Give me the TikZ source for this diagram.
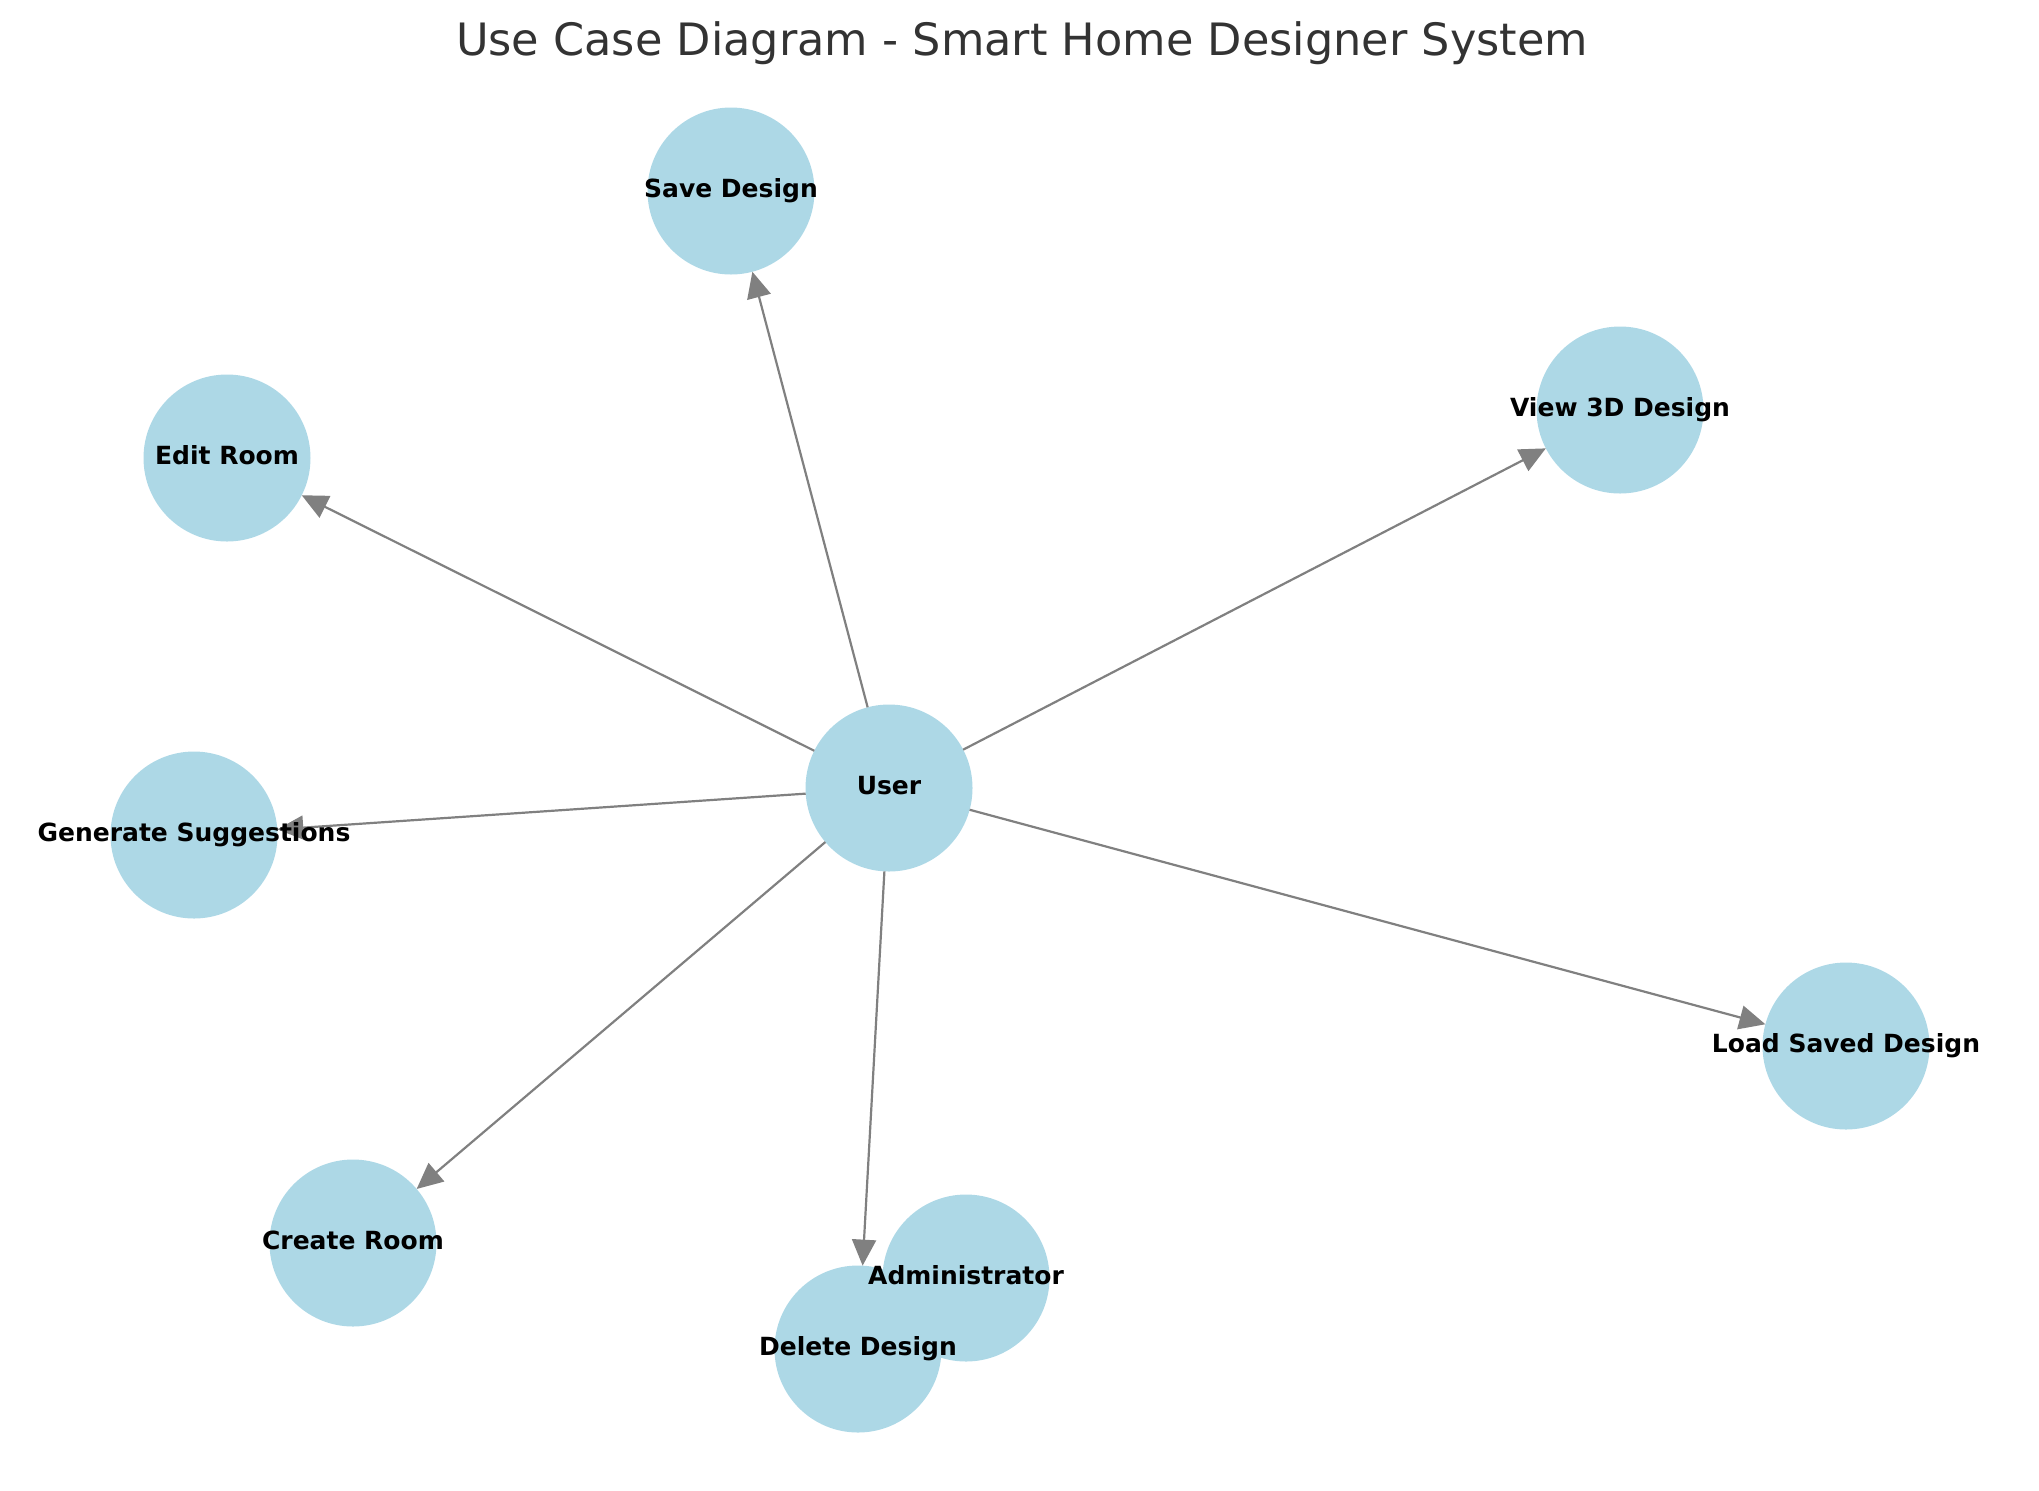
\documentclass[tikz,border=0pt]{standalone}
\usepackage{fontspec}
\setmainfont{DejaVu Sans}
\usetikzlibrary{arrows.meta}
\definecolor{caseblue}{HTML}{ADD8E6}
\definecolor{titlegray}{HTML}{333333}
\begin{document}
\begin{tikzpicture}[x=.5pt, y=-.5pt, >={Triangle[length=13pt,width=12pt]},
    usecase/.style={circle, fill=caseblue, minimum size=83.5pt, inner sep=0pt, outer sep=0pt},
    caselabel/.style={font=\bfseries\fontsize{12.5}{15}\selectfont, text height=.8em, text depth=.15em, inner sep=0pt}]
\useasboundingbox (0,0) rectangle (2039,1490);
\node[font=\fontsize{22.3}{27}\selectfont, text=titlegray, anchor=base] (title) at (1022,55) {Use Case Diagram - Smart Home Designer System};

\foreach \n/\x/\y in {user/889/788, save/731/191, edit/227/458, view/1620/410, gen/194/835, load/1846/1046, create/353/1243, admin/966/1278, delete/858/1349}
{
    \node[usecase] (\n) at (\x,\y) {};
}
\foreach \n in {save,edit,view,gen,load,create,delete}
{
    \draw[->, gray, line width=1.1pt] (user)--(\n);
}
\foreach \n/\t in {user/User, save/Save Design, edit/Edit Room, view/View 3D Design, gen/Generate Suggestions, load/Load Saved Design, create/Create Room, admin/Administrator, delete/Delete Design}
{
    \node[caselabel] (\n-text) at (\n) {\t};
}
\end{tikzpicture}
\end{document}
